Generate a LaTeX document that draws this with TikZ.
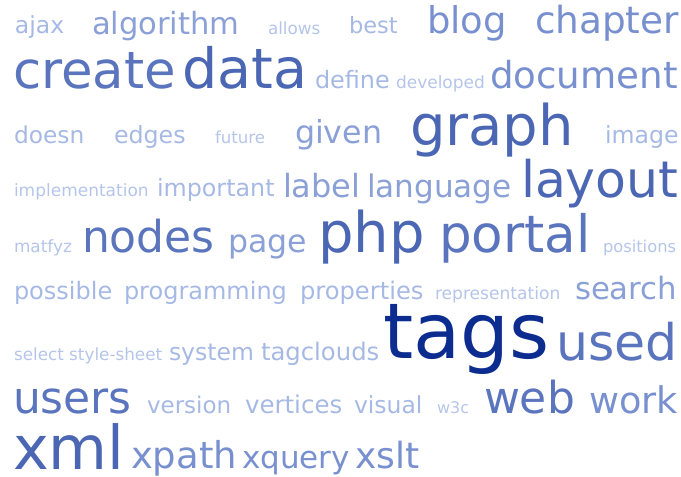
\documentclass[tikz,border=0pt]{standalone}
\usepackage{fontspec}
\setmainfont{DejaVu Sans}
\definecolor{wA}{HTML}{B5C5EA}
\definecolor{wB}{HTML}{A6B9E5}
\definecolor{wC}{HTML}{8AA0D6}
\definecolor{wD}{HTML}{7890CF}
\definecolor{wE}{HTML}{5A75BD}
\definecolor{wF}{HTML}{4B67B4}
\definecolor{wG}{HTML}{0C2D8F}
\tikzset{
  word/.style={anchor=base west, inner sep=0pt, outer sep=0pt},
  sz/.style={font=\fontsize{#1}{#1}\selectfont},
}
\begin{document}
\begin{tikzpicture}[x=1pt,y=-1pt]
\useasboundingbox (0,0) rectangle (681,477);
% row 1
\node[word,sz=23.5,text=wB] (ajax) at (15,33) {ajax};
\node[word,sz=30.6,text=wC] (algorithm) at (92,34) {algorithm};
\node[word,sz=16.8,text=wA] (allows) at (268,34) {allows};
\node[word,sz=22.5,text=wB] (best) at (349,33) {best};
\node[word,sz=36.9,text=wD] (blog) at (427,33) {blog};
\node[word,sz=37.4,text=wD] (chapter) at (535,33) {chapter};
% row 2
\node[word,sz=51.3,text=wE] (create) at (13,88) {create};
\node[word,sz=55.5,text=wF] (data) at (182,88) {data};
\node[word,sz=23.9,text=wB] (define) at (315,88) {define};
\node[word,sz=17,text=wA] (developed) at (396,88) {developed};
\node[word,sz=37.2,text=wD] (document) at (490,88) {document};
% row 3
\node[word,sz=23.3,text=wB] (doesn) at (14,143) {doesn};
\node[word,sz=23.7,text=wB] (edges) at (114,143) {edges};
\node[word,sz=16.6,text=wA] (future) at (215,143) {future};
\node[word,sz=31.7,text=wC] (given) at (295,143) {given};
\node[word,sz=56,text=wF] (graph) at (410,145) {graph};
\node[word,sz=23.6,text=wB] (image) at (605,143) {image};
% row 4
\node[word,sz=17,text=wA] (implementation) at (14,196) {implementation};
\node[word,sz=23.8,text=wB] (important) at (157,196) {important};
\node[word,sz=32,text=wC] (label) at (283,197) {label};
\node[word,sz=31.1,text=wC] (language) at (367,197) {language};
\node[word,sz=50.5,text=wF] (layout) at (521,197) {layout};
% row 5
\node[word,sz=16.9,text=wA] (matfyz) at (14,252) {matfyz};
\node[word,sz=44,text=wE] (nodes) at (82,252) {nodes};
\node[word,sz=31.6,text=wC] (page) at (228,252) {page};
\node[word,sz=56,text=wF] (php) at (318,252) {php};
\node[word,sz=51.5,text=wE] (portal) at (439,252) {portal};
\node[word,sz=16.3,text=wA] (positions) at (603,252) {positions};
% row 6
\node[word,sz=24,text=wB] (possible) at (14,299) {possible};
\node[word,sz=24,text=wB] (programming) at (124,299) {programming};
\node[word,sz=24.2,text=wB] (properties) at (300,299) {properties};
\node[word,sz=17.1,text=wA,text depth=0pt] (representation) at (435,299) {representation};
\node[word,sz=30.8,text=wC] (search) at (575,299) {search};
% row 7
\node[word,sz=16.8,text=wA] (select) at (14,360) {select style-sheet};
\node[word,sz=23.5,text=wB] (system) at (169,360) {system};
\node[word,sz=24.3,text=wB] (tagclouds) at (261,360) {tagclouds};
\node[word,sz=77,text=wG,text height=54pt] (tags) at (383,358) {tags};
\node[word,sz=50.5,text=wE] (used) at (556,360) {used};
% row 8
\node[word,sz=44,text=wE] (users) at (13,413) {users};
\node[word,sz=23,text=wB] (version) at (147,413) {version};
\node[word,sz=24.5,text=wB] (vertices) at (245,413) {vertices};
\node[word,sz=23.5,text=wB] (visual) at (354,413) {visual};
\node[word,sz=16,text=wA] (w3c) at (437,413) {w3c};
\node[word,sz=44,text=wE] (web) at (484,413) {web};
\node[word,sz=36.7,text=wD] (work) at (589,413) {work};
% row 9
\node[word,sz=60.5,text=wF,text depth=0pt] (xml) at (13,469) {xml};
\node[word,sz=37,text=wD,text depth=0pt] (xpath) at (131,468) {xpath};
\node[word,sz=31,text=wD,text depth=0pt] (xquery) at (242,468) {xquery};
\node[word,sz=36,text=wD,text depth=0pt] (xslt) at (355,468) {xslt};
\end{tikzpicture}
\end{document}
